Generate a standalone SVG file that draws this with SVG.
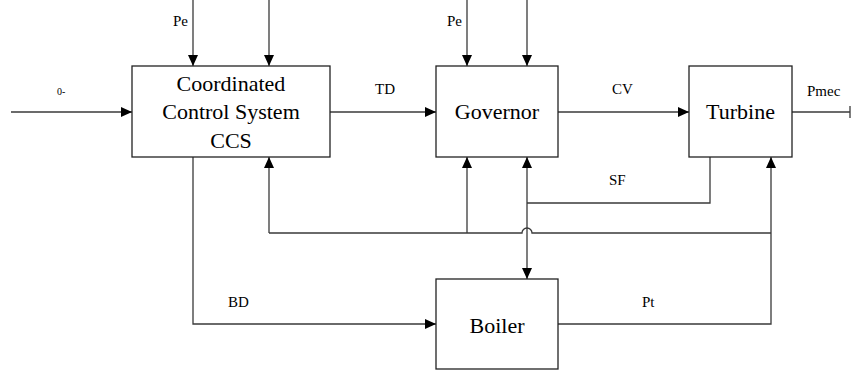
<svg xmlns="http://www.w3.org/2000/svg" width="851" height="374" viewBox="0 0 851 374">
  <style>
    .box { fill: #ffffff; stroke: #222222; stroke-width: 1.3; }
    .wire { fill: none; stroke: #3a3a3a; stroke-width: 1.3; }
    text { font-family: "Liberation Serif", Tinos, "Times New Roman", "DejaVu Serif", serif; fill: #000000; }
    .big { font-size: 22px; text-anchor: middle; }
    .lbl { font-size: 15px; }
    .tiny { font-size: 10px; }
  </style>
  <defs>
    <marker id="arrow" markerUnits="userSpaceOnUse" markerWidth="11" markerHeight="10" refX="11" refY="5" orient="auto">
      <path d="M0,0 L11,5 L0,10 z" fill="#000000"/>
    </marker>
    <marker id="arrowStart" markerUnits="userSpaceOnUse" markerWidth="11" markerHeight="10" refX="0" refY="5" orient="auto">
      <path d="M11,0 L0,5 L11,10 z" fill="#000000"/>
    </marker>
  </defs>

  <g id="connectors">
    <!-- external input into CCS -->
    <line class="wire" x1="11" y1="112" x2="132" y2="112" marker-end="url(#arrow)"/>
    <!-- CCS top inputs -->
    <line class="wire" x1="193" y1="0" x2="193" y2="66" marker-end="url(#arrow)"/>
    <line class="wire" x1="269" y1="0" x2="269" y2="66" marker-end="url(#arrow)"/>
    <!-- Governor top inputs -->
    <line class="wire" x1="467" y1="0" x2="467" y2="66" marker-end="url(#arrow)"/>
    <line class="wire" x1="527" y1="0" x2="527" y2="66" marker-end="url(#arrow)"/>
    <!-- TD: CCS to Governor -->
    <line class="wire" x1="330" y1="112" x2="436" y2="112" marker-end="url(#arrow)"/>
    <!-- CV: Governor to Turbine -->
    <line class="wire" x1="558" y1="112" x2="689" y2="112" marker-end="url(#arrow)"/>
    <!-- Pmec output -->
    <line class="wire" x1="792" y1="112" x2="850" y2="112"/>
    <line class="wire" x1="850" y1="106" x2="850" y2="118"/>
    <!-- BD: CCS to Boiler -->
    <path class="wire" d="M193,157 V324 H436" marker-end="url(#arrow)"/>
    <!-- Pt: Boiler to Turbine -->
    <path class="wire" d="M558,324 H771 V157" marker-end="url(#arrow)"/>
    <!-- feedback bus with hop over the Governor/Boiler link -->
    <path class="wire" d="M269,233 H522 A5,5 0 0 1 532,233 H771"/>
    <line class="wire" x1="269" y1="233" x2="269" y2="157" marker-end="url(#arrow)"/>
    <line class="wire" x1="467" y1="233" x2="467" y2="157" marker-end="url(#arrow)"/>
    <!-- Governor / Boiler two-way link -->
    <line class="wire" x1="527" y1="157" x2="527" y2="279" marker-start="url(#arrowStart)" marker-end="url(#arrow)"/>
    <!-- SF: Turbine back to link -->
    <path class="wire" d="M710,157 V203 H527"/>
  </g>

  <g id="ccs">
    <rect class="box" x="132" y="66" width="198" height="91"/>
    <text class="big" x="231" y="91">Coordinated</text>
    <text class="big" x="231" y="119">Control System</text>
    <text class="big" x="231" y="148">CCS</text>
  </g>
  <g id="governor">
    <rect class="box" x="436" y="66" width="122" height="91"/>
    <text class="big" x="497" y="119">Governor</text>
  </g>
  <g id="turbine">
    <rect class="box" x="689" y="66" width="103" height="91"/>
    <text class="big" x="740.5" y="119">Turbine</text>
  </g>
  <g id="boiler">
    <rect class="box" x="436" y="279" width="122" height="90"/>
    <text class="big" x="497" y="333">Boiler</text>
  </g>

  <g id="labels">
    <text class="tiny" x="57" y="95">0-</text>
    <text class="lbl" x="173" y="26">Pe</text>
    <text class="lbl" x="447" y="26">Pe</text>
    <text class="lbl" x="375" y="94">TD</text>
    <text class="lbl" x="612" y="94">CV</text>
    <text class="lbl" x="807" y="96">Pmec</text>
    <text class="lbl" x="609" y="185">SF</text>
    <text class="lbl" x="228" y="307">BD</text>
    <text class="lbl" x="642" y="307">Pt</text>
  </g>
</svg>
